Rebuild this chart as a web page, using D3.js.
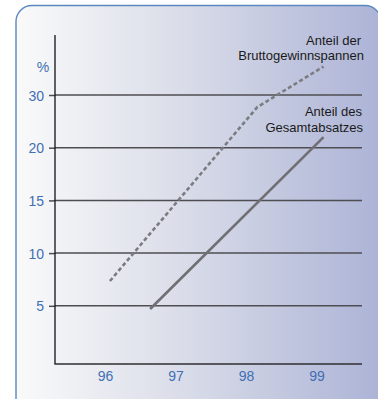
<!DOCTYPE html>
<html>
<head>
<meta charset="utf-8">
<script src="https://cdn.jsdelivr.net/npm/d3@7"></script>
<style>
  html, body { margin: 0; padding: 0; background: #fff; }
  svg { display: block; }
</style>
</head>
<body>
<svg id="chart" width="378" height="399"></svg>
<script>
// Years on the horizontal axis
const years = [96, 97, 98, 99];
// Labelled rows on the vertical axis (evenly spaced rows)
const yTicks = [5, 10, 15, 20, 30];

// Share of gross margins (dashed)
const marginYears = [96.07, 98.16, 99.1];
const marginValues = [7.35, 27.7, 35.4];

// Share of total sales (solid)
const salesYears = [96.64, 99.1];
const salesValues = [4.7, 22.0];

const svg = d3.select("#chart");

// Panel background
const defs = svg.append("defs");
const grad = defs.append("linearGradient").attr("id", "bg")
  .attr("x1", "0%").attr("x2", "100%").attr("y1", "0%").attr("y2", "0%");
grad.append("stop").attr("offset", "0%").attr("stop-color", "#fafafa");
grad.append("stop").attr("offset", "45%").attr("stop-color", "#dadde9");
grad.append("stop").attr("offset", "100%").attr("stop-color", "#acb3d6");

svg.append("rect")
  .attr("x", 16).attr("y", 5.5)
  .attr("width", 365).attr("height", 410)
  .attr("rx", 16).attr("ry", 16)
  .attr("fill", "url(#bg)")
  .attr("stroke", "#5b87c0")
  .attr("stroke-width", 1.4);

// Plot geometry
const plotLeft = 55, plotRight = 362, plotBottom = 364, axisTop = 35;
const rowTop = 95, rowStep = 52.7;

const x = d3.scaleLinear().domain([96, 99]).range([105, 316.5]);
// Piecewise scale: each labelled value sits on its own evenly spaced row
const y = d3.scaleLinear()
  .domain(yTicks)
  .range(yTicks.map((d, i) => rowTop + (yTicks.length - 1 - i) * rowStep));

const blue = "#416fb4";
const font = "'Liberation Sans', Arial, Helvetica, sans-serif";

// Gridlines
svg.append("g").selectAll("line").data(yTicks).join("line")
  .attr("x1", plotLeft).attr("x2", plotRight)
  .attr("y1", d => y(d)).attr("y2", d => y(d))
  .attr("stroke", "#4e4e52").attr("stroke-width", 1.5);

// Y axis with ticks and labels
const yAxis = d3.axisLeft(y).tickValues(yTicks).tickSize(6).tickPadding(5);
const gy = svg.append("g").attr("transform", `translate(${plotLeft},0)`).call(yAxis);
gy.select(".domain").remove();
gy.selectAll(".tick line").attr("stroke", "#4e4e52").attr("stroke-width", 1.5);
gy.selectAll(".tick text")
  .attr("fill", blue).attr("font-family", font).attr("font-size", 14)
  .attr("dy", "0.36em");

svg.append("line")
  .attr("x1", plotLeft).attr("x2", plotLeft)
  .attr("y1", axisTop).attr("y2", plotBottom)
  .attr("stroke", "#111").attr("stroke-width", 1.3);

// X axis
svg.append("line")
  .attr("x1", plotLeft - 0.6).attr("x2", plotRight)
  .attr("y1", plotBottom).attr("y2", plotBottom)
  .attr("stroke", "#2e2e30").attr("stroke-width", 1.6);

const xAxis = d3.axisBottom(x).tickValues(years).tickSize(0).tickPadding(7)
  .tickFormat(d3.format("d"));
const gx = svg.append("g").attr("transform", `translate(0,${plotBottom})`).call(xAxis);
gx.select(".domain").remove();
gx.selectAll(".tick text")
  .attr("fill", blue).attr("font-family", font).attr("font-size", 14)
  .attr("dy", "0.71em");

// Unit label
svg.append("text")
  .attr("x", 43).attr("y", 71.5)
  .attr("text-anchor", "middle")
  .attr("fill", blue).attr("font-family", font).attr("font-size", 14)
  .text("%");

// Lines
const line = d3.line().x(d => x(d[0])).y(d => y(d[1]));

svg.append("path")
  .datum(marginYears.map((d, i) => [d, marginValues[i]]))
  .attr("d", line)
  .attr("fill", "none")
  .attr("stroke", "#7c7c80")
  .attr("stroke-width", 2.6)
  .attr("stroke-dasharray", "4,2.6");

svg.append("path")
  .datum(salesYears.map((d, i) => [d, salesValues[i]]))
  .attr("d", line)
  .attr("fill", "none")
  .attr("stroke", "#707074")
  .attr("stroke-width", 2.6);

// Series annotations
const notes = [
  { text: "Anteil der", x: 361, y: 44.5 },
  { text: "Bruttogewinnspannen", x: 364, y: 59.5 },
  { text: "Anteil des", x: 362, y: 116 },
  { text: "Gesamtabsatzes", x: 363, y: 131.5 }
];
svg.append("g").selectAll("text").data(notes).join("text")
  .attr("x", d => d.x).attr("y", d => d.y)
  .attr("text-anchor", "end")
  .attr("fill", "#1a1a1a").attr("font-family", font).attr("font-size", 13)
  .text(d => d.text);
</script>
</body>
</html>
